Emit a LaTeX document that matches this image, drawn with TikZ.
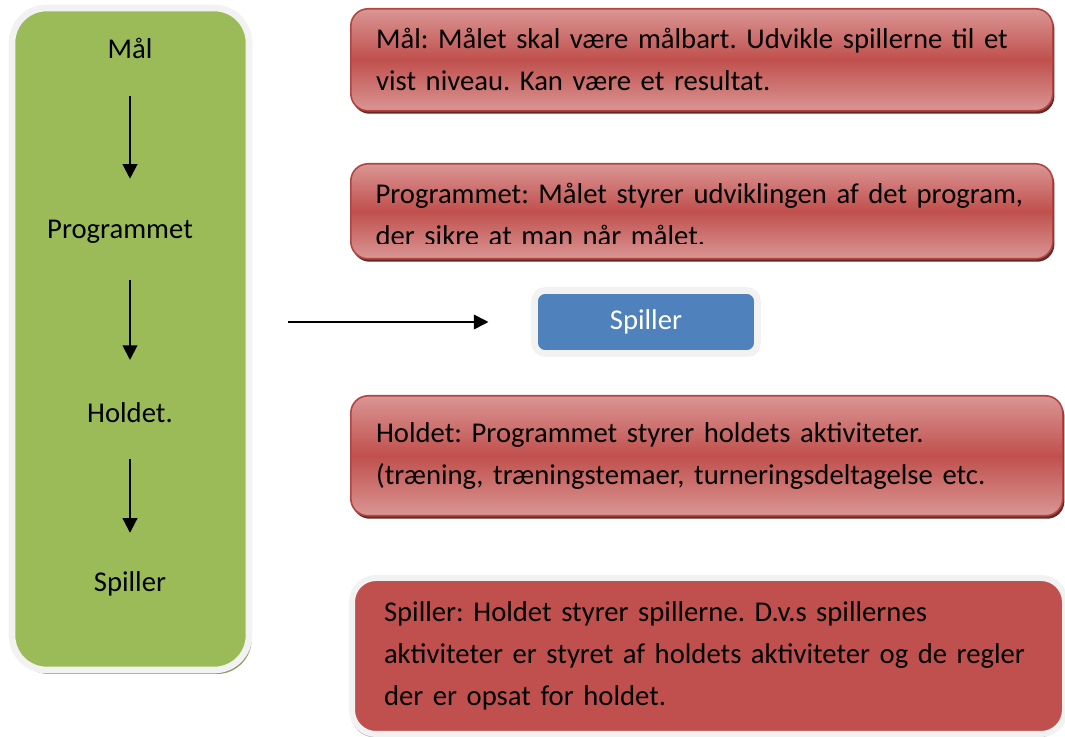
\documentclass[tikz,border=0pt]{standalone}
\usepackage{fontspec}
\setmainfont{Carlito}
\frenchspacing
\usetikzlibrary{arrows.meta, positioning, shadows}
\definecolor{stackgreen}{HTML}{9BBB59}
\definecolor{notered}{HTML}{C0504D}
\definecolor{notepink}{HTML}{DA9694}
\definecolor{noteedge}{HTML}{B3443F}
\definecolor{playerblue}{HTML}{4F81BD}
\definecolor{rimgray}{HTML}{F2F2F2}

\tikzset{
  rimbox/.style={draw=rimgray, line width=5pt},
  notebox/.style={draw=noteedge, line width=1.2pt, rounded corners=13pt,
    top color=notepink, bottom color=notepink, middle color=notered,
    drop shadow={shadow xshift=1.2pt, shadow yshift=-2.2pt, opacity=1, fill=notered!50!black},
    anchor=north west, align=left, inner xsep=19pt},
  flow/.style={-{Triangle[length=11pt,width=11pt]}, line width=1.5pt},
}

\begin{document}
\begin{tikzpicture}[x=0.75pt, y=-0.75pt,
    every node/.style={font=\fontsize{21.5}{31.5}\selectfont}]
    \useasboundingbox (0,0) rectangle (1065,737);

    % left column
    \node[rimbox, fill=stackgreen, rounded corners=26pt, minimum width=177.75pt, minimum height=496.5pt,
        drop shadow={shadow xshift=2pt, shadow yshift=-3pt, opacity=1, fill=stackgreen!45!gray}] (stack) at (130.5,339) {};
    \node[inner sep=0] (maal) at (130,48) {Mål};
    \node[inner sep=0] (prog) at (120,232) {Programmet};
    \node[inner sep=0] (hold) at (130,413) {Holdet.};
    \node[inner sep=0] (spil) at (130,584) {Spiller};
    \draw[flow, shorten <=28pt, shorten >=31pt] (maal) -- (maal |- prog.north);
    \draw[flow, shorten <=27pt, shorten >=32pt] (maal |- prog.south) -- (hold);
    \draw[flow, shorten <=27pt, shorten >=29pt] (hold) -- (spil);

    % player
    \node[rimbox, fill=playerblue, rounded corners=8pt, minimum width=167.25pt, minimum height=47.25pt,
        text=white, drop shadow={shadow xshift=1.5pt, shadow yshift=-2pt, opacity=1, fill=gray!60}] (player) at (646,322) {Spiller};
    \draw[flow, line width=1.2pt, shorten <=27pt, shorten >=32pt] (stack.east |- player.west) -- (player.west);

    % notes
    \node[notebox, minimum width=526.5pt, minimum height=76.5pt, text width=488.5pt] (maalnote) at (350,8)
        {Mål: Målet skal være målbart. Udvikle spillerne til et\\vist niveau. Kan være et resultat.};
    \node[notebox, minimum width=526.5pt, minimum height=71.25pt] (prognote) at (350,163) {};
    \begin{scope}
        \clip (prognote.north west) rectangle ([yshift=12pt]prognote.south east);
        \node[anchor=west, inner sep=0, text width=488.5pt, align=left] (progtext) at ([xshift=19pt, yshift=-2pt]prognote.west)
            {Programmet: Målet styrer udviklingen af det program,\\der sikre at man når målet.};
    \end{scope}
    \node[notebox, minimum width=534pt, minimum height=90pt, text width=496pt] (holdnote) at (350,395)
        {Holdet: Programmet styrer holdets aktiviteter.\\(træning, træningstemaer, turneringsdeltagelse etc.};
    \node[rimbox, fill=notered, rounded corners=18pt, line width=4.5pt, anchor=north west, align=left,
        minimum width=534.75pt, minimum height=117pt, inner xsep=24pt, text width=486.75pt,
        drop shadow={shadow xshift=-1pt, shadow yshift=-2.5pt, opacity=1, fill=gray!60}] (spilnote) at (349,575)
        {Spiller: Holdet styrer spillerne. D.v.s spillernes\\aktiviteter er styret af holdets aktiviteter og de regler\\der er opsat for holdet.};
\end{tikzpicture}
\end{document}
